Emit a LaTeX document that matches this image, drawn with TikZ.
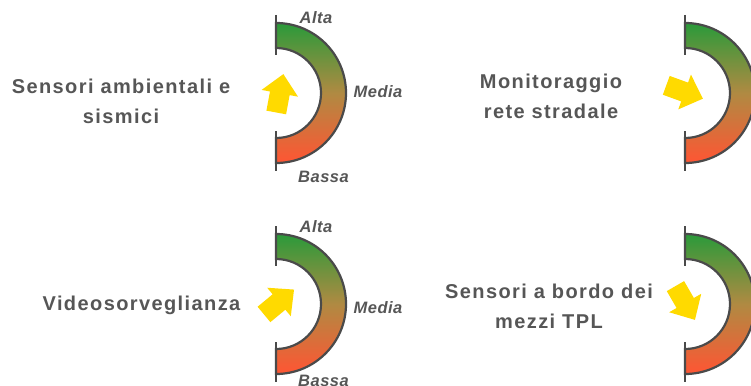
\documentclass[tikz,border=0pt]{standalone}
\usepackage{fontspec}
\setmainfont{Liberation Sans}
\newfontfamily\txtfont[LetterSpace=7]{Liberation Sans}
\newfontfamily\lblfont[LetterSpace=3]{Liberation Sans}
\definecolor{txtgray}{HTML}{565656}
\definecolor{rimgray}{HTML}{4A4A4A}
\definecolor{gtop}{HTML}{2A9A3A}
\definecolor{gmid}{HTML}{B08A42}
\definecolor{gbot}{HTML}{FF5533}
\definecolor{arrowyellow}{HTML}{FFDA00}
\begin{document}
\begin{tikzpicture}[x=1pt,y=1pt,
  maintext/.style={font=\txtfont\bfseries\fontsize{20}{30}\selectfont, text=txtgray, align=center, inner sep=0pt},
  leveltext/.style={font=\lblfont\bfseries\itshape\fontsize{16.5}{18}\selectfont, text=txtgray, inner sep=0pt, anchor=base},
  band/.style={draw=rimgray, line width=2.2pt, top color=gtop, bottom color=gbot, middle color=gmid},
  rim/.style={draw=rimgray, line width=2.6pt},
  pointer/.style={fill=arrowyellow, draw=none},
  gauge/.pic={
    \path[band] (0,70) arc[start angle=90,end angle=-90,radius=70] -- (0,-45) arc[start angle=-90,end angle=90,radius=45] -- cycle;
    \draw[rim] (0,78) -- (0,38);
    \draw[rim] (0,-38) -- (0,-78);
  },
  yellowarrow/.pic={
    \path[pointer] (-19.5,-10) -- (0,-10) -- (0,-18.5) -- (19.5,0) -- (0,18.5) -- (0,10) -- (-19.5,10) -- cycle;
  }
]
\clip (0,0) rectangle (751,-385);

% gauges
\pic (g1) at (276,-93) {gauge};
\pic (g2) at (685,-93) {gauge};
\pic (g3) at (276,-304) {gauge};
\pic (g4) at (685,-304) {gauge};

% level labels
\node[leveltext] (alta1) at (316,-23.3) {Alta};
\node[leveltext] (media1) at (378,-97.7) {Media};
\node[leveltext] (bassa1) at (323.5,-182.7) {Bassa};
\node[leveltext] (alta3) at (316,-232.7) {Alta};
\node[leveltext] (media3) at (378,-313.3) {Media};
\node[leveltext] (bassa3) at (323.5,-386.5) {Bassa};

% arrows
\pic[rotate=79.5] (a1) at (279.8,-93.3) {yellowarrow};
\pic[rotate=-20] (a2) at (684.6,-92) {yellowarrow};
\pic[rotate=39.6] (a3) at (279,-302) {yellowarrow};
\pic[rotate=-60] (a4) at (685.2,-303) {yellowarrow};

% texts
\node[maintext] (t1) at (121,-101.4) {Sensori ambientali e\\sismici};
\node[maintext] (t2) at (551,-96) {Monitoraggio\\rete stradale};
\node[maintext, anchor=base] (t3) at (141.5,-310.7) {Videosorveglianza};
\node[maintext] (t4) at (549,-306) {Sensori a bordo dei\\mezzi TPL};
\end{tikzpicture}
\end{document}
